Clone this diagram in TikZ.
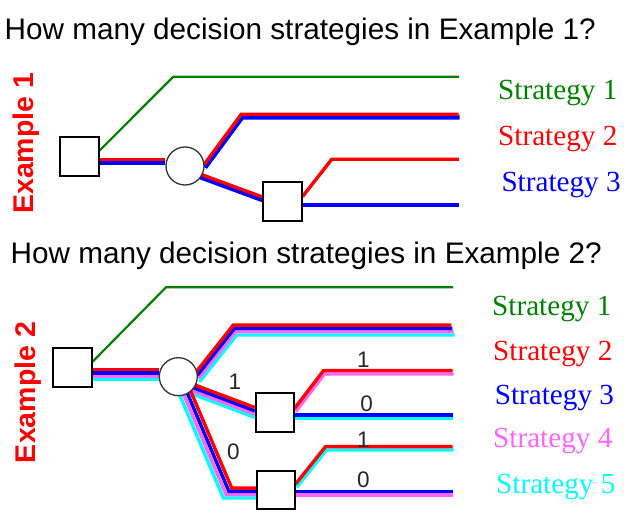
\documentclass[tikz,border=0pt]{standalone}
\usepackage{fontspec}
\setmainfont{Liberation Serif}
\newfontfamily\arialfont{Liberation Sans}
\pgfdeclarelayer{background}
\pgfsetlayers{background,main}
\definecolor{strat1}{RGB}{0,128,0}
\definecolor{strat2}{RGB}{255,0,0}
\definecolor{strat3}{RGB}{0,0,255}
\definecolor{strat4}{RGB}{255,102,255}
\definecolor{strat5}{RGB}{0,255,255}
\tikzset{
    decision/.style={draw=black,line width=1.7pt,fill=white,minimum size=38.5pt,inner sep=0pt},
    chance/.style={circle,draw=black!80,line width=1.3pt,fill=white,minimum size=38pt,inner sep=0pt},
    question/.style={font=\arialfont\fontsize{29.7}{32}\selectfont,anchor=base west,inner sep=0pt},
    example/.style={font=\arialfont\bfseries\fontsize{28.5}{30}\selectfont,text=strat2,rotate=90,anchor=base,inner sep=0pt},
    strategy/.style={font=\fontsize{29.2}{30}\selectfont,anchor=base west,inner sep=0pt},
    outcome/.style={font=\arialfont\fontsize{22.5}{24}\selectfont,text=black!85,inner sep=0pt},
    greenpath/.style={strat1,line width=2.2pt},
    stratpath/.style={line width=3.4pt,line join=miter}
}
\begin{document}
\begin{tikzpicture}[x=1pt,y=-1pt]
\useasboundingbox (0,0) rectangle (624,513);
\node[question] (q1) at (4.5,39.3) {How many decision strategies in Example 1?};
\node[question] (q2) at (10.5,263.3) {How many decision strategies in Example 2?};
\node[example] (ex1) at (33.3,143.3) {Example 1};
\node[example] (ex2) at (35,392.5) {Example 2};
% example 1
\node[decision] (d1) at (79.5,156.5) {};
\node[chance] (c1) at (185,166) {};
\node[decision] (d2) at (282.5,201.5) {};
\coordinate (g1) at (173.3,76.7);
\coordinate (g1e) at (459,76.7);
\coordinate (u1) at (241.7,115.8);
\coordinate (u1e) at (459,115.8);
\coordinate (h2) at (331.7,159.3);
\coordinate (h2e) at (459,159.3);
\coordinate (z2e) at (459,205);
\node[strategy,text=strat1] (s11) at (498,100) {Strategy 1};
\node[strategy,text=strat2] (s12) at (498,145.5) {Strategy 2};
\node[strategy,text=strat3] (s13) at (501.3,191.7) {Strategy 3};
% example 2
\node[decision] (d3) at (72.5,367.5) {};
\node[chance] (c2) at (178.3,376.7) {};
\node[decision] (d4) at (275,412.5) {};
\node[decision] (d5) at (276,490) {};
\coordinate (g2) at (166,287.3);
\coordinate (g2e) at (453,287.3);
\coordinate (u2) at (235,330);
\coordinate (u2e) at (453,330);
\coordinate (l2) at (227.5,493);
\coordinate (h4) at (324,372.3);
\coordinate (h4e) at (453,372.3);
\coordinate (z4e) at (453,416.7);
\coordinate (h5) at (326,448.3);
\coordinate (h5e) at (453,448.3);
\coordinate (z5e) at (453,493.3);
\node[strategy,text=strat1] (s21) at (492,315) {Strategy 1};
\node[strategy,text=strat2] (s22) at (493,360) {Strategy 2};
\node[strategy,text=strat3] (s23) at (494.6,404) {Strategy 3};
\node[strategy,text=strat4] (s24) at (493,447.3) {Strategy 4};
\node[strategy,text=strat5] (s25) at (496,493.3) {Strategy 5};
\node[outcome] (o1) at (235,381.7) {1};
\node[outcome] (o2) at (233.3,451.7) {0};
\node[outcome] (o3) at (363.3,360) {1};
\node[outcome] (o4) at (366.7,403.3) {0};
\node[outcome] (o5) at (363.3,439.3) {1};
\node[outcome] (o6) at (363.3,479.3) {0};
\begin{pgfonlayer}{background}
% example 1 paths
\draw[greenpath] ([yshift=6pt]d1.east) -- (g1) -- (g1e);
\foreach \col/\off/\lw in {strat3/0.5/4.5pt,strat2/-0.5/3.4pt}{
  \draw[stratpath,\col,line width=\lw,transform canvas={shift={(0,3.4*\off)}}] ([yshift=-4.5pt]d1.east) -- ([yshift=5pt]c1.west);
  \draw[stratpath,\col,line width=\lw,transform canvas={shift={(\off,3*\off)}}] (c1.east) -- (u1) -- (u1e);
  \draw[stratpath,\col,line width=\lw,transform canvas={shift={(0,3*\off)}}] ([yshift=-4pt]c1.center) -- ([yshift=3pt]d2.west);
}
\draw[stratpath,strat2] ([yshift=5pt]d2.east) -- (h2) -- (h2e);
\draw[stratpath,strat3,line width=4.5pt] ([yshift=-3.5pt]d2.east) -- (z2e);
% example 2 paths
\draw[greenpath] ([yshift=5.8pt]d3.east) -- (g2) -- (g2e);
\foreach \col/\off in {strat5/1.5,strat4/0.5,strat3/-0.5,strat2/-1.5}{
  \draw[stratpath,\col,transform canvas={shift={(0,3.3*\off)}}] ([yshift=-7.2pt]d3.east) -- ([yshift=2pt]c2.west);
  \draw[stratpath,\col,transform canvas={shift={(1.1*\off,3.3*\off)}}] (c2.east) -- (u2) -- (u2e);
  \draw[stratpath,\col,transform canvas={shift={(0,3.3*\off)}}] ([yshift=-7pt]c2.center) -- (d4.west);
  \draw[stratpath,\col,transform canvas={shift={(-2.8*\off,3.3*\off)}}] (c2.center) -- (l2) -- (l2 -| d5.center);
}
\foreach \col/\off in {strat4/0.5,strat2/-0.5}
  \draw[stratpath,\col,transform canvas={shift={(\off,3.3*\off)}}] ([yshift=2.5pt]d4.east) -- (h4) -- (h4e);
\foreach \col/\off in {strat5/0.5,strat3/-0.5}
  \draw[stratpath,\col,transform canvas={shift={(0,3.3*\off)}}] ([yshift=-4.2pt]d4.east) -- (z4e);
\foreach \col/\off in {strat5/0.5,strat2/-0.5}
  \draw[stratpath,\col,transform canvas={shift={(\off,3.3*\off)}}] ([yshift=4.3pt]d5.east) -- (h5) -- (h5e);
\foreach \col/\off in {strat4/0.5,strat3/-0.5}
  \draw[stratpath,\col,transform canvas={shift={(0,3.3*\off)}}] ([yshift=-3.3pt]d5.east) -- (z5e);
\end{pgfonlayer}
\end{tikzpicture}
\end{document}
